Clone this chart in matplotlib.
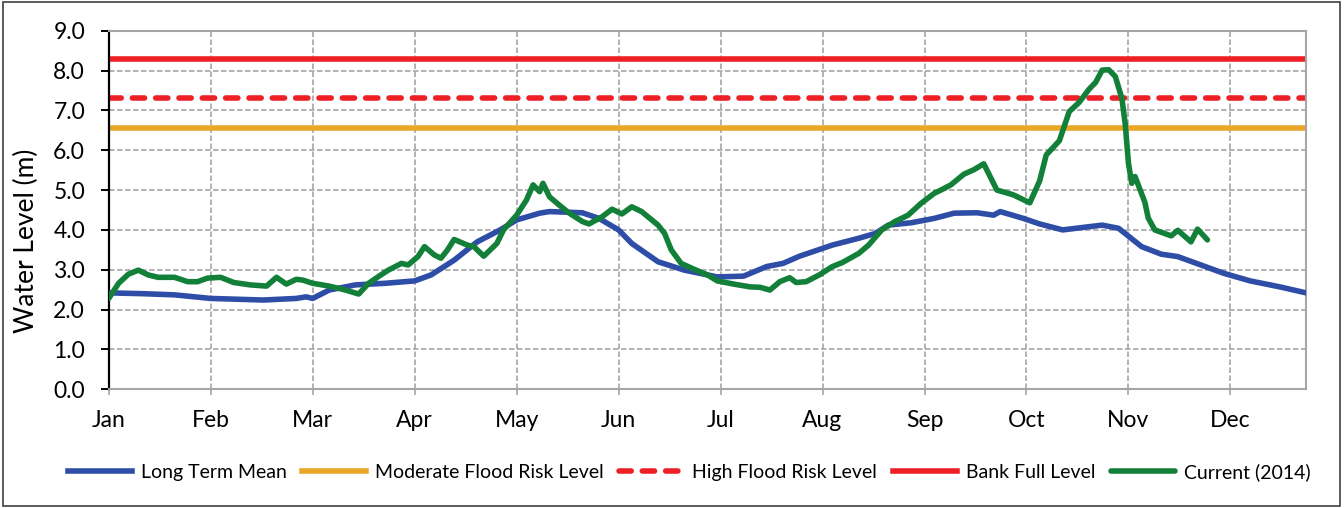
import matplotlib
matplotlib.use("Agg")
import matplotlib.pyplot as plt
from matplotlib.patches import Rectangle

plt.rcParams["font.family"] = ["Lato", "DejaVu Sans"]

# x axis is a day index (0..364), Excel-style category ticks every 31 days
month_labels = ["Jan", "Feb", "Mar", "Apr", "May", "Jun",
                "Jul", "Aug", "Sep", "Oct", "Nov", "Dec"]
month_ticks = [0, 31, 62, 93, 124, 155, 186, 217, 248, 279, 310, 341]

# long term mean
mean_days = [0, 10, 20, 31, 47, 57, 60, 62, 67, 75, 84, 93, 98, 105, 112, 119,
             124, 131, 134, 144, 149, 155, 159, 167, 175, 185, 193, 200, 205,
             210, 220, 228, 233, 237, 244, 251, 257, 264, 269, 271, 278, 283,
             290, 302, 307, 314, 320, 325, 332, 339, 347, 356, 364]
mean_level = [2.42, 2.40, 2.37, 2.28, 2.24, 2.28, 2.32, 2.28, 2.49, 2.62, 2.66,
              2.72, 2.87, 3.24, 3.70, 4.00, 4.25, 4.42, 4.46, 4.43, 4.29, 4.00,
              3.66, 3.20, 2.99, 2.82, 2.84, 3.08, 3.16, 3.34, 3.62, 3.79, 3.91,
              4.12, 4.18, 4.29, 4.42, 4.43, 4.37, 4.46, 4.29, 4.15, 4.00, 4.12,
              4.04, 3.58, 3.39, 3.33, 3.12, 2.91, 2.72, 2.57, 2.42]

# current year 2014
cur_days = [0, 3, 6, 9, 12, 15, 20, 24, 27, 30, 34, 38, 43, 48, 51, 54, 57, 59,
            62, 67, 72, 76, 79, 82, 85, 89, 91, 94, 96, 99, 101, 103, 105, 109,
            111, 114, 117, 118, 120, 124, 127, 129, 131, 132, 134, 137, 140, 144,
            146, 150, 153, 156, 159, 162, 167, 169, 171, 174, 178, 182, 185, 190,
            195, 198, 201, 204, 207, 209, 212, 216, 220, 223, 228, 231, 235, 239,
            243, 247, 251, 253, 256, 260, 263, 266, 270, 275, 280, 283, 285, 289,
            292, 295, 298, 300, 302, 304, 306, 308, 309, 310, 311, 312, 315, 316,
            318, 321, 323, 325, 329, 331, 334]
cur_level = [2.28, 2.66, 2.89, 2.99, 2.87, 2.81, 2.81, 2.70, 2.70, 2.79, 2.81,
             2.68, 2.62, 2.59, 2.81, 2.64, 2.76, 2.74, 2.66, 2.59, 2.49, 2.39,
             2.66, 2.83, 2.99, 3.16, 3.12, 3.33, 3.58, 3.37, 3.29, 3.50, 3.76,
             3.62, 3.58, 3.34, 3.58, 3.66, 4.00, 4.37, 4.75, 5.13, 4.96, 5.17,
             4.83, 4.62, 4.42, 4.21, 4.15, 4.33, 4.52, 4.40, 4.58, 4.46, 4.12,
             3.91, 3.50, 3.16, 3.01, 2.87, 2.72, 2.64, 2.57, 2.56, 2.49, 2.70,
             2.80, 2.68, 2.70, 2.87, 3.08, 3.18, 3.41, 3.62, 4.00, 4.21, 4.37,
             4.67, 4.92, 5.00, 5.13, 5.40, 5.51, 5.66, 5.00, 4.88, 4.68, 5.23,
             5.88, 6.24, 6.97, 7.20, 7.53, 7.70, 8.01, 8.02, 7.85, 7.30, 6.67,
             5.67, 5.17, 5.34, 4.69, 4.30, 4.00, 3.91, 3.85, 3.99, 3.70, 4.02,
             3.75]

moderate_level = 6.55
high_level = 7.30
bank_full_level = 8.30

fig = plt.figure(figsize=(13.44, 5.08), dpi=100)
ax = fig.add_axes([0.0809, 0.2337, 0.8909, 0.7059])

lw = 4.0
ax.plot(mean_days, mean_level, color="#2E4DA6", lw=lw, solid_joinstyle="round",
        label="Long Term Mean", zorder=3)
ax.axhline(moderate_level, color="#EAA628", lw=lw, label="Moderate Flood Risk Level", zorder=2)
ax.axhline(high_level, color="#EE2026", lw=lw, dashes=(2.2, 2.0), dash_capstyle="round",
           label="High Flood Risk Level", zorder=2)
ax.axhline(bank_full_level, color="#EE2026", lw=lw, label="Bank Full Level", zorder=2)
ax.plot(cur_days, cur_level, color="#13803A", lw=lw, solid_joinstyle="round",
        solid_capstyle="round", label="Current (2014)", zorder=4)

ax.set_xlim(0, 364)
ax.set_ylim(0, 9)
ax.set_yticks(range(10))
ax.set_yticklabels([f"{v:.1f}" for v in range(10)])
ax.set_xticks(month_ticks)
ax.set_xticklabels(month_labels)

ax.grid(True, color="#A6A6A6", lw=1.2, linestyle=(0, (3.3, 1.5)), zorder=0)
ax.set_axisbelow(True)

for side in ["top", "right", "bottom"]:
    ax.spines[side].set_color("#A6A6A6")
    ax.spines[side].set_linewidth(1.5)
ax.spines["left"].set_color("black")
ax.spines["left"].set_linewidth(1.6)

ax.tick_params(axis="y", direction="out", length=6, width=1.4, color="black",
               pad=11, labelsize=16.5)
ax.tick_params(axis="x", direction="out", length=4, width=1.2, color="#A6A6A6",
               pad=11, labelsize=16.5)

ax.set_ylabel("Water Level (m)", fontsize=19)
ax.yaxis.set_label_coords(-0.058, 0.415)

fig.legend(loc="center", bbox_to_anchor=(689 / 1344, 1 - 472 / 508), ncol=5,
           frameon=False, fontsize=14, handlelength=3.3, handletextpad=0.45,
           columnspacing=0.8)

fig.patches.append(Rectangle((3 / 1344, 2 / 508), 1337 / 1344, 504 / 508,
                             transform=fig.transFigure, fill=False,
                             edgecolor="#404040", lw=1.2))

fig.savefig("out.png", dpi=100)
